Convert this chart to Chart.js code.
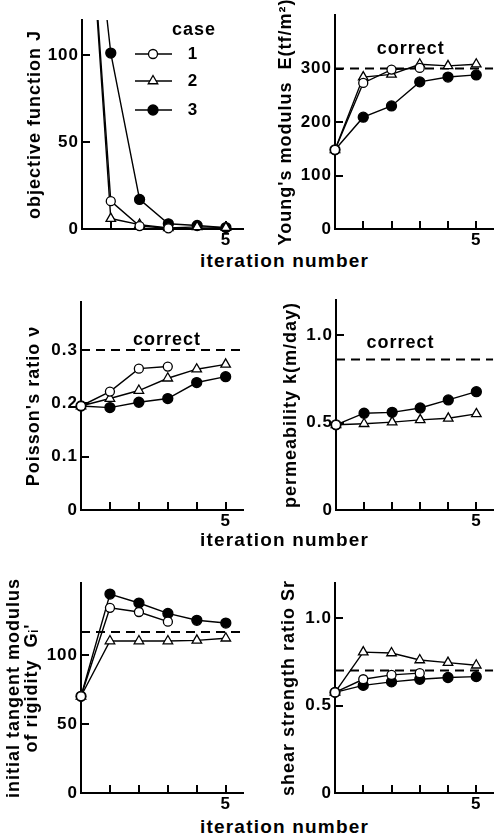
<!DOCTYPE html>
<html>
<head>
<meta charset="utf-8">
<script src="https://cdn.jsdelivr.net/npm/chart.js@4/dist/chart.umd.min.js"></script>
<style>
  body { margin: 0; background: #fff; width: 500px; height: 839px; position: relative; overflow: hidden; }
  canvas { position: absolute; }
  .xlabel {
    position: absolute; left: 200px; white-space: nowrap;
    font: bold 19px "Liberation Sans", Arial, sans-serif; letter-spacing: 1.2px; color: #000;
  }
</style>
</head>
<body>
<canvas id="p1" width="250" height="250" style="left:0;top:0"></canvas>
<canvas id="p2" width="250" height="250" style="left:250px;top:0"></canvas>
<canvas id="p3" width="250" height="250" style="left:0;top:280px"></canvas>
<canvas id="p4" width="250" height="250" style="left:250px;top:280px"></canvas>
<canvas id="p5" width="250" height="250" style="left:0;top:560px"></canvas>
<canvas id="p6" width="250" height="250" style="left:250px;top:560px"></canvas>
<div class="xlabel" style="top:250px">iteration number</div>
<div class="xlabel" style="top:529px">iteration number</div>
<div class="xlabel" style="top:816px">iteration number</div>
<script>
// iteration index for every series
const iterations = [0, 1, 2, 3, 4, 5];
const caseNames = ["1", "2", "3"];
const xTicks = [1, 2, 3, 4, 5];
const xTickLabels = ["", "", "", "", "5"];

// objective function J
const jCase1 = [250, 16, 1.7, 0.4];
const jCase2 = [250, 6, 2.5, 0.6, 1.2, 0.8];
const jCase3 = [250, 101, 17, 3, 2, 0.8];
const jTicks = [0, 50, 100];
const jLabels = ["0", "50", "100"];

// Young's modulus E
const youngCase1 = [148, 273, 298, 301];
const youngCase2 = [148, 284, 289, 308, 305, 308];
const youngCase3 = [148, 209, 230, 275, 284, 288];
const youngCorrect = 300;
const youngTicks = [0, 100, 200, 300];
const youngLabels = ["0", "100", "200", "300"];

// Poisson's ratio
const poissonCase1 = [0.195, 0.222, 0.265, 0.269];
const poissonCase2 = [0.195, 0.209, 0.224, 0.247, 0.264, 0.273];
const poissonCase3 = [0.195, 0.192, 0.202, 0.209, 0.239, 0.25];
const poissonCorrect = 0.3;
const poissonTicks = [0, 0.1, 0.2, 0.3];
const poissonLabels = ["0", "0.1", "0.2", "0.3"];

// permeability k
const permCase1 = [0.487];
const permCase2 = [0.487, 0.493, 0.502, 0.515, 0.524, 0.549];
const permCase3 = [0.487, 0.553, 0.558, 0.583, 0.629, 0.676];
const permCorrect = 0.86;
const permTicks = [0, 0.5, 1.0];
const permLabels = ["0", "0.5", "1.0"];

// initial tangent modulus of rigidity Gi'
const giCase1 = [70, 134, 131, 124];
const giCase2 = [70, 110, 110, 110, 110.5, 112];
const giCase3 = [70, 144, 137.5, 130, 125, 123];
const giCorrect = 116.5;
const giTicks = [0, 50, 100];
const giLabels = ["0", "50", "100"];

// shear strength ratio Sr
const srCase1 = [0.575, 0.65, 0.675, 0.685];
const srCase2 = [0.575, 0.805, 0.80, 0.76, 0.745, 0.73];
const srCase3 = [0.575, 0.615, 0.635, 0.65, 0.66, 0.665];
const srCorrect = 0.70;
const srTicks = [0, 0.5, 1.0];
const srLabels = ["0", "0.5", "1.0"];

const X_MAX = 5.6;
const FONT = "'Liberation Sans', Arial, sans-serif";

const caseStyles = [
    { pointStyle: "circle", pointRadius: 4.5, pointBackgroundColor: "#fff" },
    { pointStyle: "triangle", pointRadius: 5.5, pointBackgroundColor: "#fff" },
    { pointStyle: "circle", pointRadius: 5, pointBackgroundColor: "#000" }
];

const toPoints = (vals) => vals.map((v, i) => ({ x: iterations[i], y: v }));

const drawMarker = (ctx, style, x, y) => {
    ctx.fillStyle = style.pointBackgroundColor;
    ctx.strokeStyle = "#000";
    ctx.lineWidth = 1.3;
    if (Chart.helpers && Chart.helpers.drawPoint) {
        Chart.helpers.drawPoint(ctx, { pointStyle: style.pointStyle, radius: style.pointRadius, borderWidth: 1.3, rotation: 0 }, x, y);
    } else {
        ctx.beginPath();
        ctx.arc(x, y, style.pointRadius, 0, Math.PI * 2);
        ctx.fill();
        ctx.stroke();
    }
};

const panelDecor = {
    id: "panelDecor",
    beforeDraw(chart) {
        chart.ctx.letterSpacing = "1px";
    },
    beforeDatasetsDraw(chart) {
        // short tick marks pointing into the plot
        const ctx = chart.ctx;
        const area = chart.chartArea;
        const xs = chart.scales.x;
        const ys = chart.scales.y;
        ctx.save();
        ctx.strokeStyle = "#000";
        ctx.lineWidth = 2;
        ctx.beginPath();
        xs.ticks.forEach(t => {
            const px = Math.round(xs.getPixelForValue(t.value));
            ctx.moveTo(px, area.bottom);
            ctx.lineTo(px, area.bottom - 8);
        });
        ys.ticks.forEach(t => {
            if (t.value === 0) return;
            const py = Math.round(ys.getPixelForValue(t.value));
            ctx.moveTo(area.left, py);
            ctx.lineTo(area.left + 8, py);
        });
        ctx.stroke();
        ctx.restore();
    },
    afterDraw(chart, args, opts) {
        const ctx = chart.ctx;
        const area = chart.chartArea;
        const xs = chart.scales.x;
        const ys = chart.scales.y;
        ctx.save();
        ctx.fillStyle = "#000";
        ctx.textAlign = "center";
        ctx.textBaseline = "middle";
        ctx.letterSpacing = "1px";
        if (opts.correctAt) {
            ctx.font = "bold 18px " + FONT;
            ctx.fillText("correct", xs.getPixelForValue(opts.correctAt.x), ys.getPixelForValue(opts.correctAt.y));
        }
        if (opts.legend) {
            const lx = area.left;
            const ty = area.top;
            ctx.font = "bold 18px " + FONT;
            ctx.fillText("case", lx + 112, ty + 10);
            const rows = [34, 61, 90];
            caseNames.forEach((name, i) => {
                const y = ty + rows[i];
                ctx.strokeStyle = "#000";
                ctx.lineWidth = 1.5;
                ctx.beginPath();
                ctx.moveTo(lx + 53, y);
                ctx.lineTo(lx + 90, y);
                ctx.stroke();
                drawMarker(ctx, caseStyles[i], lx + 71, y);
                ctx.fillStyle = "#000";
                ctx.font = "bold 17px " + FONT;
                ctx.fillText(name, lx + 111, y);
            });
        }
        ctx.restore();
    }
};

function makePanel(id, box, yMax, yTicks, yLabels, title, titlePad, series, correct, decor) {
    const datasets = series.map((vals, i) => ({
        label: "case " + caseNames[i],
        data: toPoints(vals),
        borderColor: "#000",
        borderWidth: 1.4,
        pointBorderColor: "#000",
        pointBorderWidth: 1.3,
        pointStyle: caseStyles[i].pointStyle,
        pointRadius: caseStyles[i].pointRadius,
        pointBackgroundColor: caseStyles[i].pointBackgroundColor,
        tension: 0,
        order: i,
        clip: { left: 10, top: 0, right: 10, bottom: 10 }
    }));
    if (correct !== null) {
        datasets.push({
            label: "correct",
            data: [{ x: 0, y: correct }, { x: X_MAX, y: correct }],
            borderColor: "#000",
            borderWidth: 2,
            borderDash: [9, 6],
            pointRadius: 0,
            order: 10
        });
    }
    const tickFont = { family: FONT, size: 17, weight: "bold" };
    return new Chart(document.getElementById(id), {
        type: "line",
        data: { datasets: datasets },
        plugins: [panelDecor],
        options: {
            responsive: false,
            animation: false,
            devicePixelRatio: 1,
            layout: { padding: { top: box.top, right: 250 - box.right, left: 0, bottom: 0 } },
            plugins: {
                legend: { display: false },
                tooltip: { enabled: false },
                panelDecor: decor
            },
            scales: {
                x: {
                    type: "linear",
                    min: 0,
                    max: X_MAX,
                    afterBuildTicks: (s) => { s.ticks = xTicks.map(v => ({ value: v })); },
                    afterFit: (s) => { s.height = 250 - box.bottom; },
                    ticks: {
                        callback: (v, i) => xTickLabels[i],
                        font: tickFont,
                        color: "#000",
                        padding: 1,
                        autoSkip: false,
                        maxRotation: 0
                    },
                    grid: { display: false, drawTicks: false },
                    border: { display: true, color: "#000", width: 2 }
                },
                y: {
                    type: "linear",
                    min: 0,
                    max: yMax,
                    afterBuildTicks: (s) => { s.ticks = yTicks.map(v => ({ value: v })); },
                    afterFit: (s) => { s.width = box.left; },
                    ticks: {
                        callback: (v, i) => yLabels[i],
                        font: tickFont,
                        color: "#000",
                        padding: 3,
                        autoSkip: false
                    },
                    grid: { display: false, drawTicks: false },
                    border: { display: true, color: "#000", width: 2 },
                    title: {
                        display: true,
                        text: title,
                        color: "#000",
                        font: { family: FONT, size: 18, weight: "bold", lineHeight: 1.0 },
                        padding: { top: titlePad, bottom: 0 }
                    }
                }
            }
        }
    });
}

makePanel("p1", { left: 82, top: 20, right: 245, bottom: 229 }, 120, jTicks, jLabels,
    "objective function J", 26, [jCase1, jCase2, jCase3], null, { legend: true });

makePanel("p2", { left: 85, top: 15, right: 248, bottom: 229 }, 400, youngTicks, youngLabels,
    "Young's modulus  E(tf/m²)", 27, [youngCase1, youngCase2, youngCase3], youngCorrect,
    { correctAt: { x: 2.68, y: 336 } });

makePanel("p3", { left: 81, top: 22, right: 243, bottom: 230 }, 0.39, poissonTicks, poissonLabels,
    "Poisson's ratio ν", 25, [poissonCase1, poissonCase2, poissonCase3], poissonCorrect,
    { correctAt: { x: 2.97, y: 0.319 } });

makePanel("p4", { left: 86, top: 20, right: 249, bottom: 230 }, 1.2, permTicks, permLabels,
    "permeability k(m/day)", 32, [permCase1, permCase2, permCase3], permCorrect,
    { correctAt: { x: 2.3, y: 0.954 } });

makePanel("p5", { left: 81, top: 23, right: 245, bottom: 233 }, 152, giTicks, giLabels,
    ["initial tangent modulus", "of rigidity  Gᵢ'"], 5, [giCase1, giCase2, giCase3], giCorrect, {});

makePanel("p6", { left: 85, top: 23, right: 248, bottom: 233 }, 1.2, srTicks, srLabels,
    "shear strength ratio Sr", 30, [srCase1, srCase2, srCase3], srCorrect, {});
</script>
</body>
</html>
